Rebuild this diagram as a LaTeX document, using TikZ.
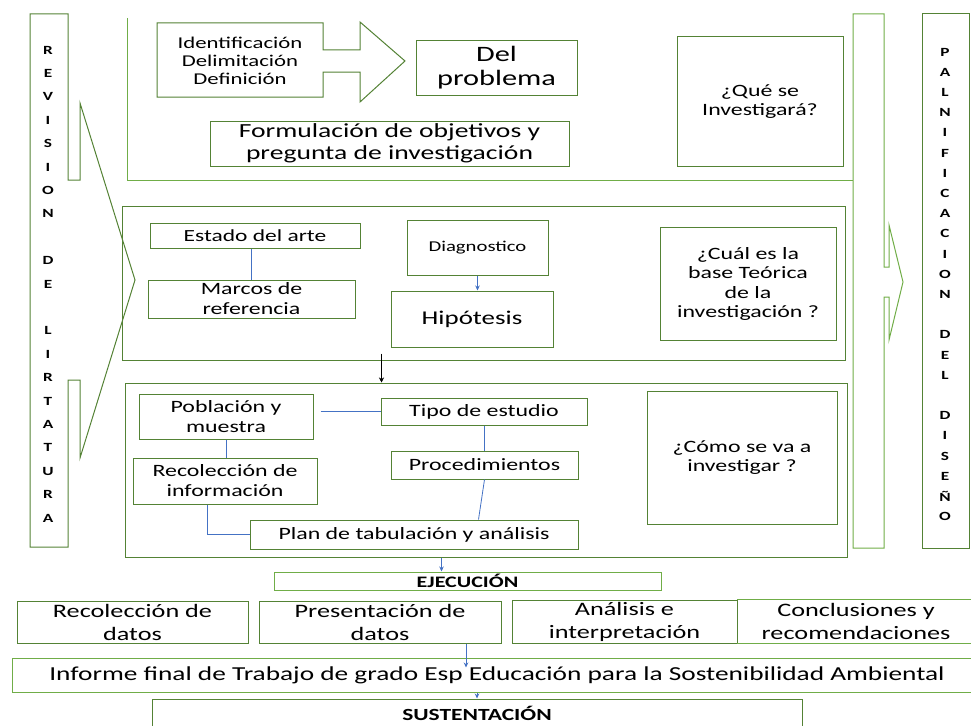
\documentclass[tikz,border=0pt]{standalone}
\usepackage{fontspec}
\setmainfont{Carlito}[FakeStretch=1.38]
\usetikzlibrary{arrows.meta, positioning}
\definecolor{boxgreen}{HTML}{548235}
\definecolor{lightgreen}{HTML}{70AD47}
\definecolor{linkblue}{HTML}{4472C4}

\tikzset{
  box/.style={draw=boxgreen, line width=1pt, fill=white, align=center, inner sep=1pt},
  section/.style={draw=boxgreen, line width=1pt, inner sep=0pt},
  link/.style={linkblue, line width=0.8pt},
  linkarrow/.style={link, -{Stealth[length=5pt,width=4.5pt]}},
  txtid/.style={font=\fontsize{16.5}{18}\selectfont},
  txtq/.style={font=\fontsize{17.3}{19.5}\selectfont},
  txtbox/.style={font=\fontsize{17.3}{20}\selectfont},
  txtlarge/.style={font=\fontsize{20}{22}\selectfont},
  txtprob/.style={font=\fontsize{22}{24}\selectfont},
  txtbottom/.style={font=\fontsize{19}{23}\selectfont},
  vletter/.style={font=\bfseries\fontsize{12.5}{13}\selectfont, inner sep=0pt}
}

\begin{document}
\begin{tikzpicture}[x=1pt, y=-1pt]
\useasboundingbox (0,0) rectangle (971,725);
\clip (0,0) rectangle (971,725);

% revision de literatura (left arrow)
\draw[boxgreen, line width=1pt] (30,14) -- (68,14) -- (68,180) -- (80,180) -- (80,103) -- (135,280)
  -- (80,458) -- (80,380) -- (68,380) -- (68,547) -- (30,547) -- cycle;
\foreach \ch [count=\i from 0] in {R,E,V,I,S,I,O,N,,D,E,,L,I,R,T,A,T,U,R,A}
  \node[vletter] at (48,{50+23.4*\i}) {\ch};

% planificacion del diseno (right arrow and box)
\draw[lightgreen, line width=1pt] (853,14) -- (884,14) -- (884,267) -- (889,267) -- (889,225) -- (903,282)
  -- (889,340) -- (889,297) -- (884,297) -- (884,548) -- (853,548) -- cycle;
\draw[boxgreen, line width=1pt] (922,14) rectangle (969,548);
\foreach \ch [count=\i from 0] in {P,A,L,N,I,F,I,C,A,C,I,O,N,,D,E,L,,D,I,S,E,Ñ,O}
  \node[vletter] at (945,{52+20.2*\i}) {\ch};

% section 1: del problema
\draw[lightgreen, line width=1pt] (127,18) -- (127,180) -- (853,180);
\draw[boxgreen, line width=1pt, fill=white] (157,23) -- (323,23) -- (323,50) -- (360,50) -- (360,22) -- (405,61)
  -- (360,102) -- (360,72) -- (323,72) -- (323,97) -- (157,97) -- cycle;
\node[txtid, align=center] (ident) at (240,61) {Identificación\\Delimitación\\Definición};
\node[box, txtprob, minimum width=161, minimum height=54] (problema) at (496.5,68) {Del\\problema};
\node[box, txtlarge, minimum width=359, minimum height=45] (formula) at (389.5,143.5)
  {Formulación de objetivos y\\pregunta de investigación};
\node[box, txtq, minimum width=166, minimum height=129] (quese) at (760,101.5) {¿Qué se\\Investigará?};

% section 2: marco teorico
\node[section, minimum width=723, minimum height=154] (sectwo) at (483.5,283) {};
\node[box, font=\fontsize{17}{20}\selectfont, minimum width=210, minimum height=25] (estado) at (255,235.5) {Estado del arte};
\node[box, txtbox, minimum width=207, minimum height=38] (marcos) at (251.5,299) {Marcos de\\referencia};
\node[box, font=\fontsize{15}{18}\selectfont, minimum width=141, minimum height=55] (diag) at (477.5,247.5) {Diagnostico};
\node[box, font=\fontsize{19.5}{22}\selectfont, minimum width=162, minimum height=56] (hipo) at (472,319) {Hipótesis};
\node[box, txtq, minimum width=176, minimum height=113] (cual) at (748,284)
  {¿Cuál es la\\base Teórica\\de la\\investigación ?};
\draw[link] (marcos.north) -- (marcos.north |- estado.south);
\draw[linkarrow] (diag.south) -- (diag.south |- hipo.north);

% section 3: metodologia
\node[section, minimum width=722, minimum height=174] (secthree) at (486,470) {};
\draw[-{Stealth[length=5pt,width=5pt]}, line width=0.6pt] ([xshift=260pt,yshift=7pt]sectwo.south west)
  -- ([xshift=257pt]secthree.north west);
\node[box, txtbox, minimum width=174, minimum height=45] (poblacion) at (226,416.5) {Población y\\muestra};
\node[box, txtbox, minimum width=206, minimum height=27] (tipo) at (484,411.5) {Tipo de estudio};
\node[box, txtbox, minimum width=184, minimum height=46] (recol) at (225,481) {Recolección de\\información};
\node[box, txtbox, minimum width=187, minimum height=28] (proced) at (484.5,465) {Procedimientos};
\node[box, txtbox, minimum width=328, minimum height=29] (plan) at (414,534.5) {Plan de tabulación y análisis};
\node[box, txtq, minimum width=190, minimum height=133] (como) at (742,457.5) {¿Cómo se va a\\investigar ?};
\draw[link] ([xshift=7pt]poblacion.east |- tipo.west) -- (tipo.west);
\draw[link] (poblacion.south) -- (poblacion.south |- recol.north);
\draw[link] (tipo.south) -- (tipo.south |- proced.north);
\draw[link] (proced.south) -- ([xshift=-6pt]proced.south |- plan.north);
\draw[link] ([xshift=-18pt]recol.south) |- (plan.west);

% ejecucion
\node[box, draw=lightgreen, font=\bfseries\fontsize{16}{17}\selectfont, inner sep=0pt, minimum width=387, minimum height=18] (ejec) at (467.5,581) {EJECUCIÓN};
\draw[linkarrow] ([xshift=-26pt]ejec.north |- secthree.south) -- ([xshift=-26pt]ejec.north);
\node[box, txtbottom, minimum width=231, minimum height=42] (recdatos) at (132.5,622) {Recolección de\\datos};
\node[box, txtbottom, minimum width=242, minimum height=42] (presdatos) at (380,622) {Presentación de\\datos};
\node[box, txtbottom, minimum width=225, minimum height=43] (analisis) at (624.5,621.5) {Análisis e\\interpretación};
\node[txtbottom, align=center, inner sep=1pt, minimum width=238, minimum height=43] (conclus) at (856,621.5)
  {Conclusiones y\\recomendaciones};
\draw[lightgreen, line width=1pt] (conclus.north west) -- (conclus.north east)
  (conclus.south west) -- (conclus.south east);

% informe y sustentacion
\node[box, draw=lightgreen, font=\fontsize{19.8}{24}\selectfont, minimum width=970, minimum height=34] (informe) at (497,675)
  {Informe final de Trabajo de grado Esp Educación para la Sostenibilidad Ambiental};
\draw[linkarrow] ([xshift=86pt]presdatos.south) -- ([xshift=86pt,yshift=-10pt]presdatos.south |- informe.north);
\node[box, font=\bfseries\fontsize{17}{19}\selectfont, inner sep=0pt, minimum width=650, minimum height=28] (sust) at (477,713) {SUSTENTACIÓN};
\draw[linkarrow] (sust.north |- informe.south) -- (sust.north);
\end{tikzpicture}
\end{document}
